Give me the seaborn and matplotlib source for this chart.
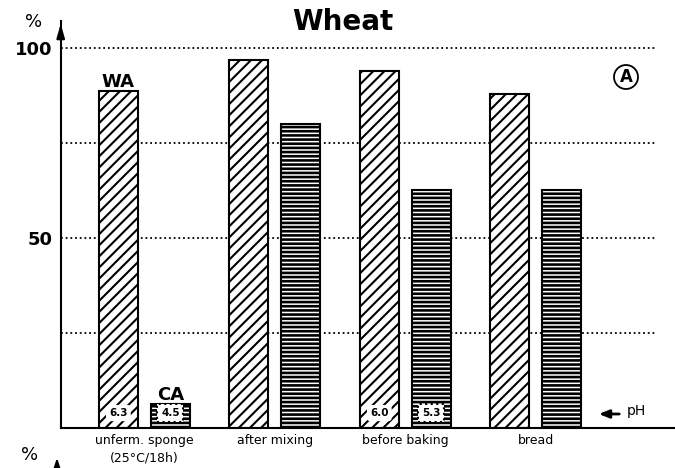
import matplotlib
matplotlib.use("Agg")
import matplotlib.pyplot as plt
import seaborn as sns
import pandas as pd

# values
stages = ["unferm. sponge\n(25\u00b0C/18h)", "after mixing", "before baking", "bread"]
wa_values = [88.6, 96.7, 93.8, 87.8]
ca_values = [6.1, 79.8, 62.5, 62.5]
wa_ph = ["6.3", None, "6.0", None]
ca_ph = ["4.5", None, "5.3", None]
grid_levels = [25, 50, 75, 100]
y_ticks = [50, 100]

sns.set_theme(style="white")
plt.rcParams["font.family"] = ["DejaVu Sans"]
plt.rcParams["text.color"] = "black"
plt.rcParams["axes.labelcolor"] = "black"
plt.rcParams["xtick.color"] = "black"
plt.rcParams["ytick.color"] = "black"
plt.rcParams["hatch.linewidth"] = 1.6
plt.rcParams["hatch.color"] = "black"

df = pd.DataFrame({
    "stage": stages * 2,
    "value": wa_values + ca_values,
    "sample": ["WA"] * 4 + ["CA"] * 4,
})

W, H = 675, 468
fig = plt.figure(figsize=(W / 100, H / 100), dpi=100)
ax = fig.add_axes([60.7 / W, 1 - 427.5 / H, (W - 60.7) / W, (427.5 - 21) / H])

sns.barplot(data=df, x="stage", y="value", hue="sample", hue_order=["WA", "CA"],
            palette={"WA": "white", "CA": "white"}, edgecolor="black", linewidth=1.5,
            width=0.797, gap=0.25, errorbar=None, legend=False, ax=ax, zorder=2)

for bar in ax.containers[0]:
    bar.set_hatch("///")
    if hasattr(bar, "set_hatch_linewidth"):
        bar.set_hatch_linewidth(1.5)
for bar in ax.containers[1]:
    bar.set_hatch("----")
    if hasattr(bar, "set_hatch_linewidth"):
        bar.set_hatch_linewidth(1.9)

ax.set_xlim(-0.641, 4.067)
ax.set_ylim(0, 107)

# dotted reference lines
ax.hlines(grid_levels, -0.641, 3.913, colors="black", linestyles=(0, (1, 1.6)),
          linewidth=1.3, zorder=0.5)

# axes
for s in ["top", "right"]:
    ax.spines[s].set_visible(False)
for s in ["left", "bottom"]:
    ax.spines[s].set_linewidth(1.5)
    ax.spines[s].set_color("black")
ax.annotate("", xy=(0, 1.0), xytext=(0, 0.96), xycoords="axes fraction",
            arrowprops=dict(arrowstyle="-|>,head_length=0.7,head_width=0.2",
                            color="black", lw=1.5))

ax.set_yticks(y_ticks)
ax.set_yticklabels([str(t) for t in y_ticks], fontsize=13, fontweight="bold")
ax.tick_params(axis="y", direction="out", length=5, width=1.3, pad=1)
ax.tick_params(axis="x", length=0, pad=5, labelsize=9)
ax.set_xticks(range(len(stages)))
ax.set_xticklabels(stages)
for lbl in ax.get_xticklabels():
    lbl.set_linespacing(1.45)
ax.set_xlabel("")
ax.set_ylabel("")

# WA / CA labels over the first group
for cont, name in zip(ax.containers, ["WA", "CA"]):
    b = cont[0]
    ax.annotate(name, (b.get_x() + b.get_width() / 2, b.get_height()),
                xytext=(0, 3), textcoords="offset points", ha="center",
                va="baseline", fontsize=13, fontweight="bold")

# pH values inside the bars
for b, ph in zip(ax.containers[0], wa_ph):
    if ph:
        ax.text(b.get_x() + b.get_width() / 2, 3.8, ph, ha="center", va="center",
                fontsize=7.5, fontweight="bold", zorder=5,
                bbox=dict(boxstyle="round,pad=0.3", fc="white", ec="none"))
for b, ph in zip(ax.containers[1], ca_ph):
    if ph:
        ax.text(b.get_x() + b.get_width() / 2, 3.8, ph, ha="center", va="center",
                fontsize=7.5, fontweight="bold", zorder=5,
                bbox=dict(boxstyle="square,pad=0.35", fc="white", ec="black",
                          ls=":", lw=1.5))

# pH arrow note
ax.annotate("", xy=(596 / W, 1 - 414 / H), xytext=(622 / W, 1 - 414 / H),
            xycoords="figure fraction",
            arrowprops=dict(arrowstyle="-|>,head_length=0.5,head_width=0.2",
                            color="black", lw=2))
fig.text(627 / W, 1 - 415 / H, "pH", fontsize=10, va="baseline", ha="left")

# circled A
fig.text(626 / W, 1 - 77 / H, "A", fontsize=12, fontweight="bold", ha="center",
         va="center", bbox=dict(boxstyle="circle,pad=0.18", fc="white", ec="black", lw=1.3))

# title and unit labels
fig.text(342.5 / W, 1 - 30 / H, "Wheat", fontsize=20, fontweight="bold",
         ha="center", va="baseline")
fig.text(34 / W, 1 - 27 / H, "%", fontsize=13, ha="center", va="baseline")
fig.text(30 / W, 1 - 460 / H, "%", fontsize=13, ha="center", va="baseline")
ax.annotate("", xy=(57 / W, 1 - 455 / H), xytext=(57 / W, 0), xycoords="figure fraction",
            arrowprops=dict(arrowstyle="-|>,head_length=0.6,head_width=0.2",
                            color="black", lw=1.5))

fig.savefig("out.png", dpi=100)
